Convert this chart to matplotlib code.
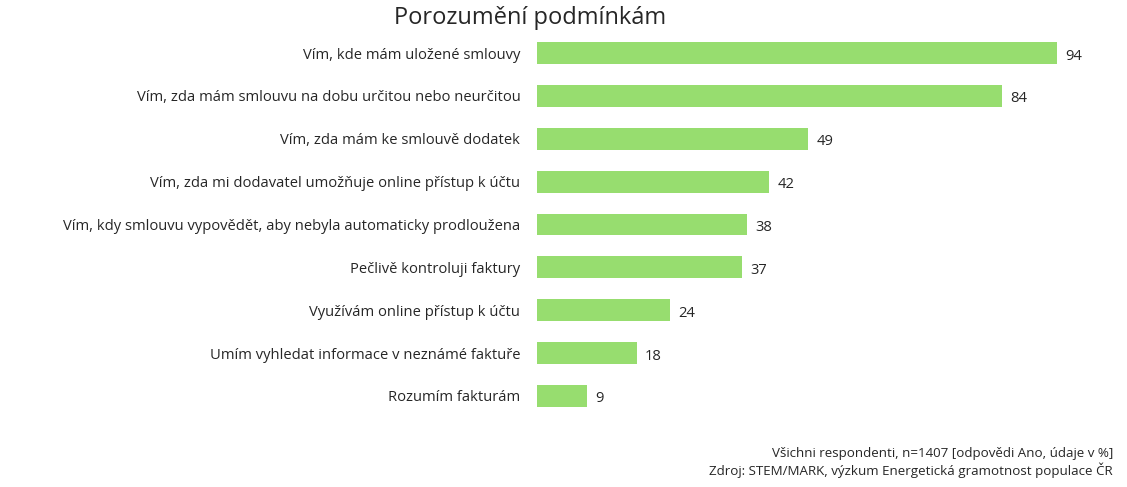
import matplotlib
matplotlib.use("Agg")
import matplotlib.pyplot as plt

plt.rcParams['font.family'] = ['Open Sans', 'DejaVu Sans']

labels = [
    "Vím, kde mám uložené smlouvy",
    "Vím, zda mám smlouvu na dobu určitou nebo neurčitou",
    "Vím, zda mám ke smlouvě dodatek",
    "Vím, zda mi dodavatel umožňuje online přístup k účtu",
    "Vím, kdy smlouvu vypovědět, aby nebyla automaticky prodloužena",
    "Pečlivě kontroluji faktury",
    "Využívám online přístup k účtu",
    "Umím vyhledat informace v neznámé faktuře",
    "Rozumím fakturám",
]
values = [94, 84, 49, 42, 38, 37, 24, 18, 9]

title = "Porozumění podmínkám"
note1 = "Všichni respondenti, n=1407 [odpovědi Ano, údaje v %]"
note2 = "Zdroj: STEM/MARK, výzkum Energetická gramotnost populace ČR"

fig = plt.figure(figsize=(11.27, 4.87), dpi=100)
ax = fig.add_axes([537 / 1127, 1 - 417.4 / 487, 553 / 1127, (417.4 - 31.6) / 487])

pos = list(range(len(values)))
ax.barh(pos, values, height=0.51, color="#97dd6f")
ax.set_ylim(len(values) - 0.5, -0.5)
ax.set_xlim(0, 100)
ax.set_yticks(pos)
ax.set_yticklabels(labels, fontsize=10.6, color="#262626")
ax.tick_params(axis="y", length=0, pad=12)
ax.set_xticks([])
for s in ax.spines.values():
    s.set_visible(False)

for i, v in enumerate(values):
    ax.text(v + 1.5, i + 0.07, str(v), va="center", ha="left", fontsize=10.6, color="#262626")

fig.text(530 / 1127, 1 - 18 / 487, title, ha="center", va="center", fontsize=17, color="#262626")
fig.text(1113 / 1127, 1 - 453 / 487, note1, ha="right", va="center", fontsize=9.6, color="#262626")
fig.text(1113 / 1127, 1 - 470 / 487, note2, ha="right", va="center", fontsize=9.6, color="#262626")

fig.savefig("out.png", dpi=100)
